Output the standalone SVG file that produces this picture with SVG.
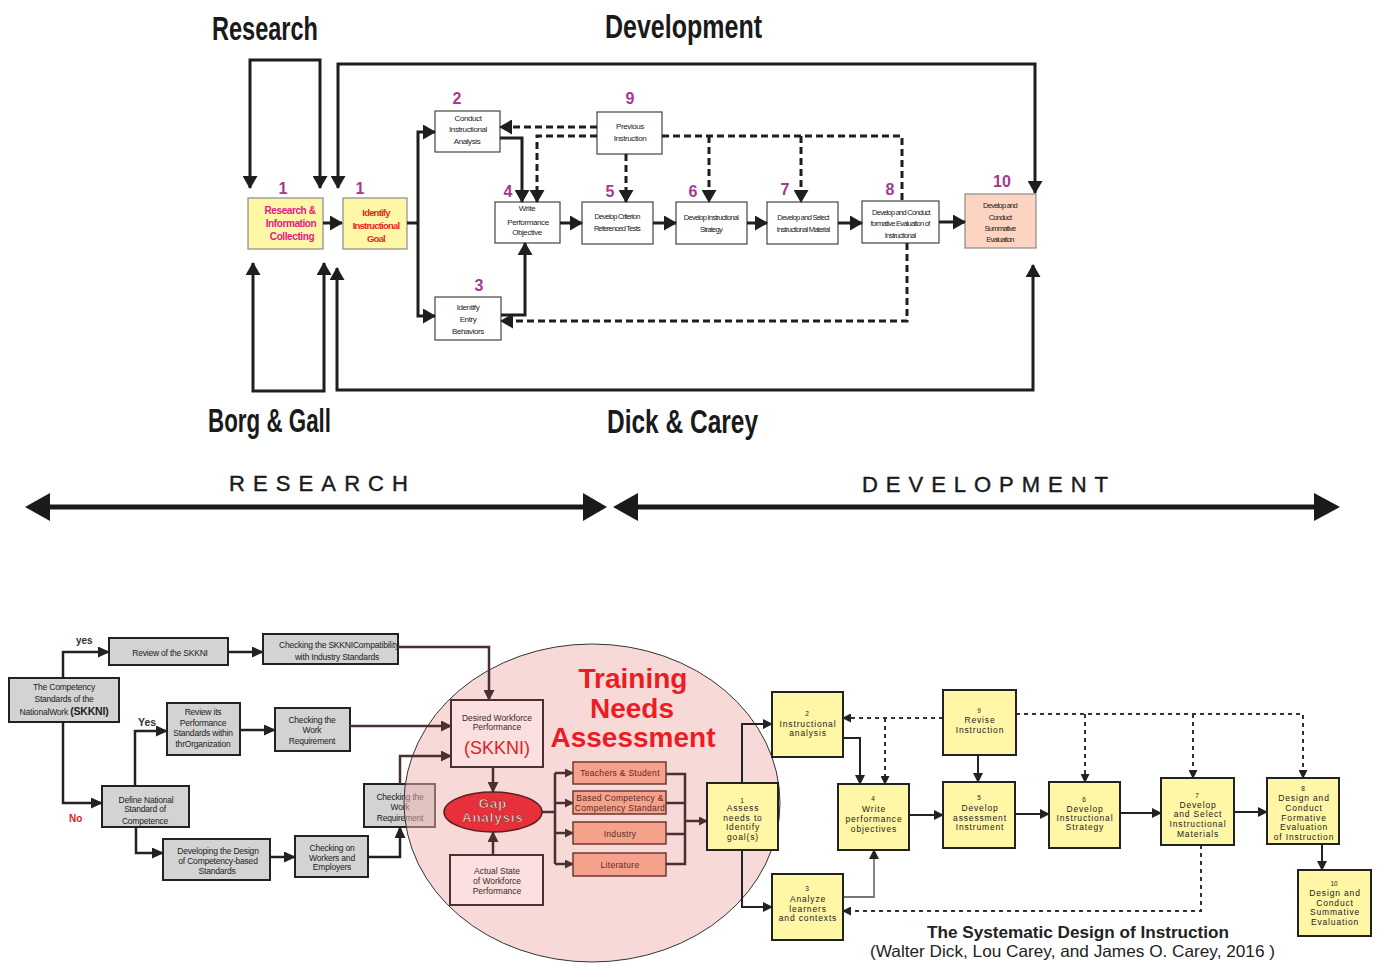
<svg xmlns="http://www.w3.org/2000/svg" width="1378" height="965" viewBox="0 0 1378 965">
<style>
text{font-family:"Liberation Sans",Arial,sans-serif;}
.big{font-size:34px;font-weight:bold;fill:#1a1a1a;}
.band{font-size:22px;fill:#1a1a1a;stroke:#1a1a1a;stroke-width:0.4;}
.num{font-size:16px;font-weight:bold;fill:#a23a90;text-anchor:middle;}
.tb{font-size:8px;letter-spacing:-0.4px;fill:#222;text-anchor:middle;}
.tbc{font-size:7.5px;letter-spacing:-0.75px;fill:#222;text-anchor:middle;}
.wbox{fill:#fff;stroke:#444;stroke-width:1.2;}
.ybox{fill:#fdf7a6;stroke:#8a8a8a;stroke-width:1.2;}
.pbox{fill:#fdd4c1;stroke:#8a8a8a;stroke-width:1.2;}
.gbox{fill:#d3d3d3;stroke:#222;stroke-width:2;}
.gt{font-size:8.5px;letter-spacing:-0.2px;fill:#222;text-anchor:middle;}
.yb{fill:#fff6a6;stroke:#222;stroke-width:2;}
.yt{font-size:8.5px;letter-spacing:0.85px;fill:#222;text-anchor:middle;}
.yn{font-size:6.5px;fill:#222;text-anchor:middle;}
.ob{fill:#f5a18c;stroke:#6a3a30;stroke-width:1.5;}
.ot{font-size:8.5px;letter-spacing:0.3px;fill:#5a2a25;text-anchor:middle;}
.ib{fill:#fce0e0;stroke:#4a3030;stroke-width:2;}
.it{font-size:8.5px;fill:#3a2a2a;text-anchor:middle;}
.ct{stroke:#1e1e1e;stroke-width:3;fill:none;}
.cd{stroke:#1e1e1e;stroke-width:3;fill:none;stroke-dasharray:7 4;}
.cb{stroke:#222;stroke-width:2.5;fill:none;}
.cr{stroke:#222;stroke-width:2;fill:none;}
.cbd{stroke:#333;stroke-width:2;fill:none;stroke-dasharray:4 4;}
.cbr{stroke:#4a3030;stroke-width:2.5;fill:none;}
</style>
<defs>
<marker id="at" viewBox="0 0 13 15" refX="12" refY="7.5" markerWidth="13" markerHeight="15" markerUnits="userSpaceOnUse" orient="auto-start-reverse"><path d="M0,0 L13,7.5 L0,15 z" fill="#1e1e1e"/></marker>
<marker id="ab" viewBox="0 0 12 11" refX="11" refY="5.5" markerWidth="12" markerHeight="11" markerUnits="userSpaceOnUse" orient="auto-start-reverse"><path d="M0,0 L12,5.5 L0,11 z" fill="#222"/></marker>
<marker id="ar" viewBox="0 0 10 10" refX="9" refY="5" markerWidth="10" markerHeight="10" markerUnits="userSpaceOnUse" orient="auto-start-reverse"><path d="M0,0 L10,5 L0,10 z" fill="#222"/></marker>
<marker id="ad" viewBox="0 0 9 9" refX="8" refY="4.5" markerWidth="9" markerHeight="9" markerUnits="userSpaceOnUse" orient="auto-start-reverse"><path d="M0,0 L9,4.5 L0,9 z" fill="#222"/></marker>
<marker id="abr" viewBox="0 0 11 11" refX="10" refY="5.5" markerWidth="11" markerHeight="11" markerUnits="userSpaceOnUse" orient="auto-start-reverse"><path d="M0,0 L11,5.5 L0,11 z" fill="#4a3030"/></marker>
<marker id="abs" viewBox="0 0 9 9" refX="8" refY="4.5" markerWidth="9" markerHeight="9" markerUnits="userSpaceOnUse" orient="auto-start-reverse"><path d="M0,0 L9,4.5 L0,9 z" fill="#4a3030"/></marker>
</defs>
<rect width="1378" height="965" fill="#fff"/>

<!-- headings -->
<text class="big" x="212" y="40" textLength="106" lengthAdjust="spacingAndGlyphs">Research</text>
<text class="big" x="605" y="38" textLength="157" lengthAdjust="spacingAndGlyphs">Development</text>
<text class="big" x="208" y="432" textLength="123" lengthAdjust="spacingAndGlyphs">Borg &amp; Gall</text>
<text class="big" x="607" y="433" textLength="151" lengthAdjust="spacingAndGlyphs">Dick &amp; Carey</text>
<text class="band" x="229" y="491" textLength="179" lengthAdjust="spacing">RESEARCH</text>
<text class="band" x="862" y="492" textLength="246" lengthAdjust="spacing">DEVELOPMENT</text>
<g id="band-arrows">
<line x1="45" y1="507" x2="590" y2="507" stroke="#1a1a1a" stroke-width="5"/>
<polygon points="25,507 50,493 50,521" fill="#1a1a1a"/>
<polygon points="607,507 583,493 583,521" fill="#1a1a1a"/>
<line x1="630" y1="507" x2="1322" y2="507" stroke="#1a1a1a" stroke-width="5"/>
<polygon points="613,507 638,493 638,521" fill="#1a1a1a"/>
<polygon points="1340,507 1314,493 1314,521" fill="#1a1a1a"/>
</g>

<!-- TOP DIAGRAM NODES -->
<g id="n1a"><rect class="ybox" x="248" y="198" width="75" height="51"/>
<text class="num" x="283" y="194">1</text>
<g font-size="10" font-weight="bold" fill="#e8168a" text-anchor="middle" letter-spacing="-0.4"><text x="290" y="214">Research &amp;</text><text x="291" y="227">Information</text><text x="292" y="240">Collecting</text></g></g>
<g id="n1b"><rect class="ybox" x="343" y="198" width="64" height="51"/>
<text class="num" x="360" y="194">1</text>
<g font-size="9.5" font-weight="bold" fill="#ee1c25" text-anchor="middle" letter-spacing="-0.8"><text x="376" y="216">Identify</text><text x="376" y="229">Instructional</text><text x="376" y="242">Goal</text></g></g>
<g id="n2"><rect class="wbox" x="435" y="111" width="65" height="41"/><text class="num" x="457" y="104">2</text>
<text class="tb" x="468" y="121">Conduct</text><text class="tb" x="468" y="132">Instructional</text><text class="tb" x="467" y="144">Analysis</text></g>
<g id="n3"><rect class="wbox" x="435" y="297" width="66" height="43"/><text class="num" x="479" y="291">3</text>
<text class="tb" x="468" y="310">Identify</text><text class="tb" x="468" y="322">Entry</text><text class="tb" x="468" y="334">Behaviors</text></g>
<g id="n4"><rect class="wbox" x="495" y="202" width="65" height="41"/><text class="num" x="508" y="197">4</text>
<text class="tb" x="527" y="211">Write</text><text class="tb" x="528" y="225">Performance</text><text class="tb" x="527" y="235">Objective</text></g>
<g id="n5"><rect class="wbox" x="582" y="202" width="71" height="42"/><text class="num" x="610" y="197">5</text>
<text class="tbc" x="617" y="219">Develop Criterion</text><text class="tbc" x="617" y="231">Referenced Tests</text></g>
<g id="n9"><rect class="wbox" x="597" y="112" width="65" height="42"/><text class="num" x="630" y="104">9</text>
<text class="tb" x="630" y="129">Previous</text><text class="tb" x="630" y="141">Instruction</text></g>
<g id="n6"><rect class="wbox" x="676" y="202" width="71" height="42"/><text class="num" x="693" y="197">6</text>
<text class="tbc" x="711" y="220">Develop Instructional</text><text class="tbc" x="711" y="232">Strategy</text></g>
<g id="n7"><rect class="wbox" x="767" y="202" width="71" height="42"/><text class="num" x="785" y="195">7</text>
<text class="tbc" x="803" y="220">Develop and Select</text><text class="tbc" x="803" y="232">Instructional Material</text></g>
<g id="n8"><rect class="wbox" x="862" y="201" width="77" height="42"/><text class="num" x="890" y="195">8</text>
<text class="tbc" x="901" y="215">Develop and Conduct</text><text class="tbc" x="900" y="226">formative Evaluation of</text><text class="tbc" x="900" y="238">Instructional</text></g>
<g id="n10"><rect class="pbox" x="965" y="194" width="71" height="54"/><text class="num" x="1002" y="187">10</text>
<text class="tbc" x="1000" y="208">Develop and</text><text class="tbc" x="1000" y="220">Conduct</text><text class="tbc" x="1000" y="231">Summative</text><text class="tbc" x="1000" y="242">Evaluation</text></g>

<!-- BOTTOM LEFT GRAY NODES -->
<g id="b-skkni"><rect class="gbox" x="9" y="678" width="110" height="44"/>
<text class="gt" x="64" y="690">The Competency</text><text class="gt" x="64" y="702">Standards of the</text>
<text class="gt" x="64" y="715">NationalWork <tspan font-weight="bold" font-size="10.5">(SKKNI)</tspan></text></g>
<g id="b-review"><rect class="gbox" x="109" y="638" width="119" height="27"/><text class="gt" x="170" y="656">Review of the SKKNI</text></g>
<g id="b-compat"><rect class="gbox" x="263" y="634" width="135" height="30"/>
<text class="gt" x="339" y="648">Checking the SKKNICompatibility</text><text class="gt" x="337" y="660">with Industry Standards</text></g>
<g id="b-reviewits"><rect class="gbox" x="167" y="703" width="73" height="52"/>
<text class="gt" x="203" y="715">Review its</text><text class="gt" x="203" y="726">Performance</text><text class="gt" x="203" y="736">Standards within</text><text class="gt" x="203" y="747">thrOrganization</text></g>
<g id="b-work1"><rect class="gbox" x="275" y="708" width="75" height="43"/>
<text class="gt" x="312" y="723">Checking the</text><text class="gt" x="312" y="733">Work</text><text class="gt" x="312" y="744">Requirement</text></g>
<g id="b-define"><rect class="gbox" x="102" y="786" width="87" height="41"/>
<text class="gt" x="146" y="803">Define National</text><text class="gt" x="145" y="812">Standard of</text><text class="gt" x="145" y="824">Competence</text></g>
<g id="b-design"><rect class="gbox" x="163" y="839" width="107" height="41"/>
<text class="gt" x="218" y="854">Developing the Design</text><text class="gt" x="218" y="864">of Competency-based</text><text class="gt" x="217" y="874">Standards</text></g>
<g id="b-workers"><rect class="gbox" x="295" y="836" width="73" height="41"/>
<text class="gt" x="332" y="851">Checking on</text><text class="gt" x="332" y="861">Workers and</text><text class="gt" x="332" y="870">Employers</text></g>
<g id="b-work2"><rect class="gbox" x="364" y="784" width="71" height="43"/>
<text class="gt" x="400" y="800">Checking the</text><text class="gt" x="400" y="810">Work</text><text class="gt" x="400" y="821">Requirement</text></g>
<g font-family="Liberation Sans" font-weight="bold"><text x="76" y="644" font-size="10" fill="#333">yes</text><text x="138" y="726" font-size="10.5" fill="#333">Yes</text><text x="69" y="822" font-size="10" fill="#e31b23">No</text></g>

<!-- Training needs circle -->
<g id="tna-circle"><ellipse cx="592" cy="803" rx="188" ry="159" fill="#f0b4b2" fill-opacity="0.5" stroke="#333" stroke-width="1"/>
<g font-size="28" font-weight="bold" fill="#ec1c24" text-anchor="middle"><text x="633" y="688">Training</text><text x="632" y="718">Needs</text><text x="633" y="747">Assessment</text></g></g>

<!-- CONNECTORS -->
<g id="connectors">
<path class="ct" d="M250,188 V60 H320 V188" marker-start="url(#at)" marker-end="url(#at)"/>
<path class="ct" d="M338,188 V64 H1035 V193" marker-start="url(#at)" marker-end="url(#at)"/>
<path class="ct" d="M253,263 V391 H324 V263" marker-start="url(#at)" marker-end="url(#at)"/>
<path class="ct" d="M337,268 V390 H1033 V265" marker-start="url(#at)" marker-end="url(#at)"/>
<path class="ct" d="M323,223 H342" marker-end="url(#at)"/>
<path class="ct" d="M407,223 H418"/>
<path class="ct" d="M435,132 H418 V316 H435" marker-start="url(#at)" marker-end="url(#at)"/>
<path class="ct" d="M500,138 H522 V202" marker-end="url(#at)"/>
<path class="ct" d="M501,315 H525 V243" marker-end="url(#at)"/>
<path class="ct" d="M560,223 H582" marker-end="url(#at)"/>
<path class="ct" d="M653,223 H676" marker-end="url(#at)"/>
<path class="ct" d="M747,223 H767" marker-end="url(#at)"/>
<path class="ct" d="M838,223 H862" marker-end="url(#at)"/>
<path class="ct" d="M939,222 H965" marker-end="url(#at)"/>
<path class="cd" d="M597,127 H500" marker-end="url(#at)"/>
<path class="cd" d="M597,136 H537 V202" marker-end="url(#at)"/>
<path class="cd" d="M626,154 V202" marker-end="url(#at)"/>
<path class="cd" d="M662,136 H902 V200"/>
<path class="cd" d="M709,136 V202" marker-end="url(#at)"/>
<path class="cd" d="M801,136 V202" marker-end="url(#at)"/>
<path class="cd" d="M907,243 V321 H501" marker-end="url(#at)"/>
<path class="cb" d="M63,678 V652 H109" marker-end="url(#ab)"/>
<path class="cb" d="M228,652 H263" marker-end="url(#ab)"/>
<path class="cb" d="M63,722 V803 H102" marker-end="url(#ab)"/>
<path class="cb" d="M135,786 V731 H167" marker-end="url(#ab)"/>
<path class="cb" d="M240,730 H275" marker-end="url(#ab)"/>
<path class="cb" d="M136,827 V853 H163" marker-end="url(#ab)"/>
<path class="cb" d="M270,857 H295" marker-end="url(#ab)"/>
<path class="cb" d="M368,857 H400 V827" marker-end="url(#ab)"/>
<path class="cbr" d="M398,647 H489 V700" marker-end="url(#abr)"/>
<path class="cbr" d="M350,726 H451" marker-end="url(#abr)"/>
<path class="cbr" d="M400,784 V756 H451" marker-end="url(#abr)"/>
<path class="cbr" d="M493,767 V792" marker-end="url(#abr)"/>
<path class="cbr" d="M493,855 V832" marker-end="url(#abr)"/>
<path class="cbr" d="M542,812 H555" stroke-width="2"/>
<path class="cbr" d="M555,773 V864" stroke-width="2"/>
<path class="cbr" d="M555,773 H573" stroke-width="2" marker-end="url(#abs)"/>
<path class="cbr" d="M555,803 H573" stroke-width="2" marker-end="url(#abs)"/>
<path class="cbr" d="M555,833 H573" stroke-width="2" marker-end="url(#abs)"/>
<path class="cbr" d="M555,864 H573" stroke-width="2" marker-end="url(#abs)"/>
<path class="cbr" d="M666,774 H685 V864 H666 M666,803 H685 M666,834 H685" stroke-width="2"/>
<path class="cbr" d="M685,821 H707" stroke-width="2" marker-end="url(#abs)"/>
<path class="cr" d="M742,783 V724 H772" marker-end="url(#ar)"/>
<path class="cr" d="M742,850 V907 H772" marker-end="url(#ar)"/>
<path class="cr" d="M843,738 H860 V784" marker-end="url(#ar)"/>
<path d="M843,897 H874 V850" stroke="#777" stroke-width="1.8" fill="none" marker-end="url(#ar)"/>
<path class="cbd" d="M943,718 H843" marker-end="url(#ad)"/>
<path class="cbd" d="M885,718 V784" marker-end="url(#ad)"/>
<path class="cbd" d="M1201,845 V911 H843" marker-end="url(#ad)"/>
<path class="cbd" d="M1016,714 H1303 V778" marker-end="url(#ad)"/>
<path class="cbd" d="M1085,714 V782" marker-end="url(#ad)"/>
<path class="cbd" d="M1193,714 V778" marker-end="url(#ad)"/>
<path class="cr" d="M909,815 H943" stroke-width="2.5" marker-end="url(#ar)"/>
<path class="cr" d="M978,755 V782" marker-end="url(#ar)"/>
<path class="cr" d="M1015,814 H1049" stroke-width="2.5" marker-end="url(#ar)"/>
<path class="cr" d="M1120,813 H1161" stroke-width="2.5" marker-end="url(#ar)"/>
<path class="cr" d="M1234,812 H1267" stroke-width="2.5" marker-end="url(#ar)"/>
<path class="cr" d="M1322,844 V870" marker-end="url(#ar)"/>
</g>

<!-- INNER NODES -->
<g id="i-desired"><rect class="ib" x="451" y="700" width="92" height="67"/>
<text class="it" x="497" y="721">Desired Workforce</text><text class="it" x="497" y="730">Performance</text>
<text x="497" y="754" font-size="18" fill="#e31b23" text-anchor="middle">(SKKNI)</text></g>
<g id="i-gap"><ellipse cx="493" cy="812" rx="49" ry="20" fill="#e8303a" stroke="#5a2020" stroke-width="1.5"/>
<g font-size="13" font-weight="bold" fill="#fbe2e2" stroke="#7a1a1a" stroke-width="0.5" text-anchor="middle" letter-spacing="1"><text x="493" y="808">Gap</text><text x="493" y="822">Analysis</text></g></g>
<g id="i-actual"><rect class="ib" x="450" y="855" width="93" height="50"/>
<text class="it" x="497" y="874">Actual State</text><text class="it" x="497" y="884">of Workforce</text><text class="it" x="497" y="894">Performance</text></g>
<g id="i-teach"><rect class="ob" x="573" y="762" width="93" height="22"/><text class="ot" x="620" y="776">Teachers &amp; Student</text></g>
<g id="i-based"><rect class="ob" x="573" y="791" width="93" height="23"/><text class="ot" x="620" y="801">Based Competency &amp;</text><text class="ot" x="620" y="811">Competency Standard</text></g>
<g id="i-industry"><rect class="ob" x="573" y="822" width="93" height="22"/><text class="ot" x="620" y="837">Industry</text></g>
<g id="i-lit"><rect class="ob" x="573" y="853" width="93" height="23"/><text class="ot" x="620" y="868">Literature</text></g>

<!-- RIGHT YELLOW NODES -->
<g id="r1"><rect class="yb" x="707" y="783" width="71" height="67"/><text class="yn" x="742" y="803">1</text>
<text class="yt" x="743" y="811">Assess</text><text class="yt" x="743" y="821">needs to</text><text class="yt" x="743" y="830">Identify</text><text class="yt" x="743" y="840">goal(s)</text></g>
<g id="r2"><rect class="yb" x="772" y="692" width="71" height="65"/><text class="yn" x="807" y="716">2</text>
<text class="yt" x="808" y="727">Instructional</text><text class="yt" x="808" y="736">analysis</text></g>
<g id="r3"><rect class="yb" x="772" y="874" width="71" height="66"/><text class="yn" x="807" y="891">3</text>
<text class="yt" x="808" y="902">Analyze</text><text class="yt" x="808" y="912">learners</text><text class="yt" x="808" y="921">and contexts</text></g>
<g id="r4"><rect class="yb" x="838" y="784" width="71" height="66"/><text class="yn" x="873" y="801">4</text>
<text class="yt" x="874" y="812">Write</text><text class="yt" x="874" y="822">performance</text><text class="yt" x="874" y="832">objectives</text></g>
<g id="r9"><rect class="yb" x="943" y="690" width="73" height="65"/><text class="yn" x="979" y="713">9</text>
<text class="yt" x="980" y="723">Revise</text><text class="yt" x="980" y="733">Instruction</text></g>
<g id="r5"><rect class="yb" x="943" y="782" width="72" height="66"/><text class="yn" x="979" y="800">5</text>
<text class="yt" x="980" y="811">Develop</text><text class="yt" x="980" y="821">assessment</text><text class="yt" x="980" y="830">Instrument</text></g>
<g id="r6"><rect class="yb" x="1049" y="782" width="71" height="66"/><text class="yn" x="1084" y="802">6</text>
<text class="yt" x="1085" y="812">Develop</text><text class="yt" x="1085" y="821">Instructional</text><text class="yt" x="1085" y="830">Strategy</text></g>
<g id="r7"><rect class="yb" x="1161" y="778" width="73" height="67"/><text class="yn" x="1197" y="798">7</text>
<text class="yt" x="1198" y="808">Develop</text><text class="yt" x="1198" y="817">and Select</text><text class="yt" x="1198" y="827">Instructional</text><text class="yt" x="1198" y="837">Materials</text></g>
<g id="r8"><rect class="yb" x="1267" y="778" width="72" height="66"/><text class="yn" x="1303" y="791">8</text>
<text class="yt" x="1304" y="801">Design and</text><text class="yt" x="1304" y="811">Conduct</text><text class="yt" x="1304" y="821">Formative</text><text class="yt" x="1304" y="830">Evaluation</text><text class="yt" x="1304" y="840">of Instruction</text></g>
<g id="r10"><rect class="yb" x="1298" y="870" width="73" height="66"/><text class="yn" x="1334" y="886">10</text>
<text class="yt" x="1335" y="896">Design and</text><text class="yt" x="1335" y="906">Conduct</text><text class="yt" x="1335" y="915">Summative</text><text class="yt" x="1335" y="925">Evaluation</text></g>

<text x="927" y="938" font-size="17" font-weight="bold" fill="#222" textLength="302" lengthAdjust="spacingAndGlyphs">The Systematic Design of Instruction</text>
<text x="870" y="957" font-size="16.5" fill="#222" textLength="405" lengthAdjust="spacingAndGlyphs">(Walter Dick, Lou Carey, and James O. Carey, 2016 )</text>
</svg>
